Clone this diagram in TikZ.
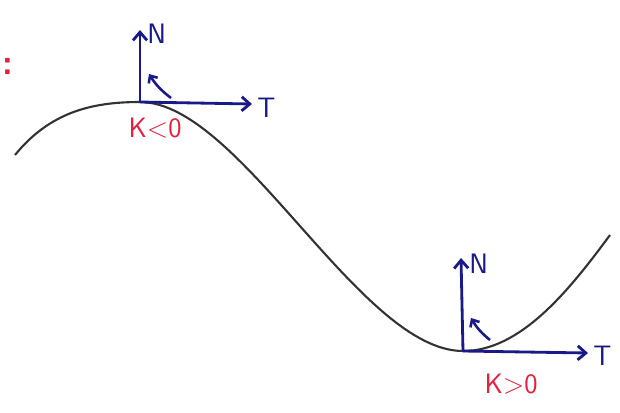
\documentclass[tikz,border=0pt]{standalone}
\usetikzlibrary{arrows.meta}

\definecolor{penblue}{RGB}{25,25,135}
\definecolor{penred}{RGB}{225,35,65}
\tikzstyle{every node}=[font={\sffamily\fontsize{24}{26}\selectfont}, inner sep=1pt]
\tikzstyle{vec}=[penblue, line width=2.4pt, -{Straight Barb[length=7pt,width=12pt]}]
\tikzstyle{turn}=[penblue, line width=2.2pt, -{Straight Barb[length=5pt,width=9pt]}]
\tikzstyle{lbl}=[penblue]
\tikzstyle{kap}=[penred]

\begin{document}
\begin{tikzpicture}[x=0.03cm, y=-0.03cm]
    \useasboundingbox (0,0) rectangle (620,412);
    % the curve
    \coordinate (start) at (15,155);
    \coordinate (top) at (140,102);
    \coordinate (bottom) at (463,351);
    \coordinate (end) at (610,235);
    \draw [black!80, line width=1.8pt]
        (start) .. controls (50,112) and (92,102) .. (top)
        .. controls (240,102) and (360,351) .. (bottom)
        .. controls (520,351) and (568,292) .. (end);

    % frame at the maximum
    \coordinate (topN) at (140,30);
    \coordinate (topT) at (252,104);
    \draw [vec] (top) -- (topN);
    \draw [vec] (top) -- (topT);
    \node [lbl, anchor=west] (topNlbl) at (146,34) {N};
    \node [lbl, anchor=west] (topTlbl) at (256,108) {T};
    \coordinate (topturnA) at (171,98);
    \coordinate (topturnB) at (149,74);
    \draw [turn] (topturnA) to[bend left=10] (topturnB);
    \node [kap] (topk) at (155,128) {K<0};

    % frame at the minimum
    \coordinate (botN) at (461,258);
    \coordinate (botT) at (588,353);
    \draw [vec] (bottom) -- (botN);
    \draw [vec] (bottom) -- (botT);
    \node [lbl, anchor=west] (botNlbl) at (468,264) {N};
    \node [lbl, anchor=west] (botTlbl) at (592,356) {T};
    \coordinate (botturnA) at (490,340);
    \coordinate (botturnB) at (471,318);
    \draw [turn] (botturnA) to[bend left=10] (botturnB);
    \node [kap] (botk) at (511,384) {K>0};

    \node [kap, anchor=west, font={\sffamily\bfseries\fontsize{30}{32}\selectfont}] (colon) at (1,66) {:};
\end{tikzpicture}
\end{document}
